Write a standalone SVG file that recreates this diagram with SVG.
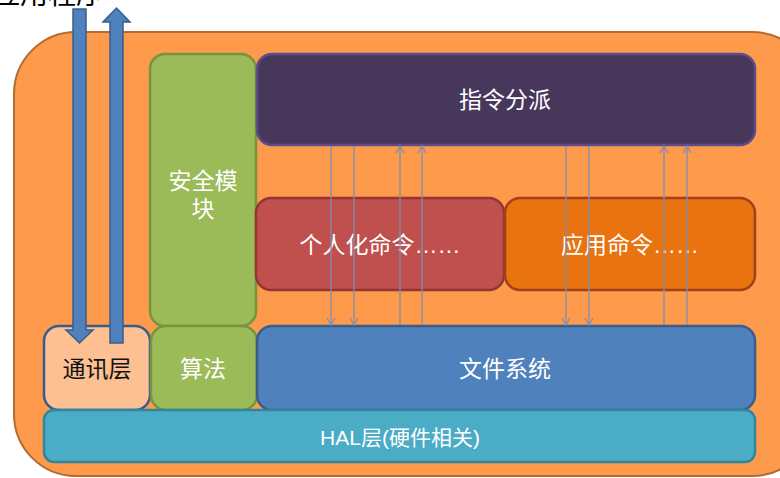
<svg xmlns="http://www.w3.org/2000/svg" width="780" height="478" viewBox="0 0 780 478">
<defs>
<style>
.t{font-family:"Liberation Sans","Noto Sans CJK SC",sans-serif;font-size:23px;fill:#fff;text-anchor:middle;dominant-baseline:central}
.c{stroke:#7F8FAF;stroke-width:1.3;fill:none}
</style>
<marker id="ah" markerWidth="10" markerHeight="10" refX="8" refY="5" orient="auto" markerUnits="userSpaceOnUse">
<path d="M1,1 L8,5 L1,9" fill="none" stroke="#7F8FAF" stroke-width="1.3"/>
</marker>
</defs>
<rect width="780" height="478" fill="#fff"/>
<text x="-8" y="4" font-family="'Noto Sans CJK SC',sans-serif" font-size="28" fill="#000">应用程序</text>
<g id="outer"><rect x="14" y="32" width="800" height="444" rx="62" fill="#FD9A4C" stroke="#B26B30" stroke-width="2"/></g>
<g id="security"><rect x="150" y="54" width="106" height="272" rx="15" fill="#9BBB59" stroke="#77933C" stroke-width="2.5"/><text class="t" x="203" y="181">安全模</text><text class="t" x="203" y="209">块</text></g>
<g id="dispatch"><rect x="257" y="54" width="498" height="91" rx="15" fill="#47375B" stroke="#5D4C8A" stroke-width="2.5"/><text class="t" x="505" y="100">指令分派</text></g>
<g id="personal"><rect x="256" y="198" width="248" height="92" rx="15" fill="#C0504D" stroke="#943634" stroke-width="2.5"/><text class="t" x="380" y="245">个人化命令……</text></g>
<g id="appcmd"><rect x="505" y="198" width="250" height="92" rx="15" fill="#E8730F" stroke="#A2401C" stroke-width="2.5"/><text class="t" x="630" y="245">应用命令……</text></g>
<g id="comm"><rect x="44" y="326" width="106" height="84" rx="15" fill="#FCC092" stroke="#385D8A" stroke-width="2.5"/><text class="t" x="97" y="369" style="fill:#111">通讯层</text></g>
<g id="algo"><rect x="151" y="326" width="106" height="84" rx="15" fill="#9BBB59" stroke="#77933C" stroke-width="2.5"/><text class="t" x="203" y="369">算法</text></g>
<g id="fs"><rect x="257" y="326" width="498" height="84" rx="15" fill="#4F81BD" stroke="#385D8A" stroke-width="2.5"/><text class="t" x="505" y="369">文件系统</text></g>
<g id="hal"><rect x="44" y="410" width="711" height="52" rx="10" fill="#4BACC6" stroke="#31859C" stroke-width="2.5"/><text class="t" x="400" y="437" style="font-size:21px">HAL层(硬件相关)</text></g>
<g id="connectors">
<line class="c" x1="331" y1="146" x2="331" y2="325" marker-end="url(#ah)"/>
<line class="c" x1="354" y1="146" x2="354" y2="325" marker-end="url(#ah)"/>
<line class="c" x1="400" y1="325" x2="400" y2="146" marker-end="url(#ah)"/>
<line class="c" x1="422" y1="325" x2="422" y2="146" marker-end="url(#ah)"/>
<line class="c" x1="566" y1="146" x2="566" y2="325" marker-end="url(#ah)"/>
<line class="c" x1="589" y1="146" x2="589" y2="325" marker-end="url(#ah)"/>
<line class="c" x1="664" y1="325" x2="664" y2="146" marker-end="url(#ah)"/>
<line class="c" x1="687" y1="325" x2="687" y2="146" marker-end="url(#ah)"/>
<path d="M73,9 H86 V330 H93 L79.5,343 L66,330 H73 Z" fill="#4F81BD" stroke="#385D8A" stroke-width="1.5"/>
<path d="M110,343 V22 H103 L116.5,8 L130,22 H123 V343 Z" fill="#4F81BD" stroke="#385D8A" stroke-width="1.5"/>
</g>
</svg>
